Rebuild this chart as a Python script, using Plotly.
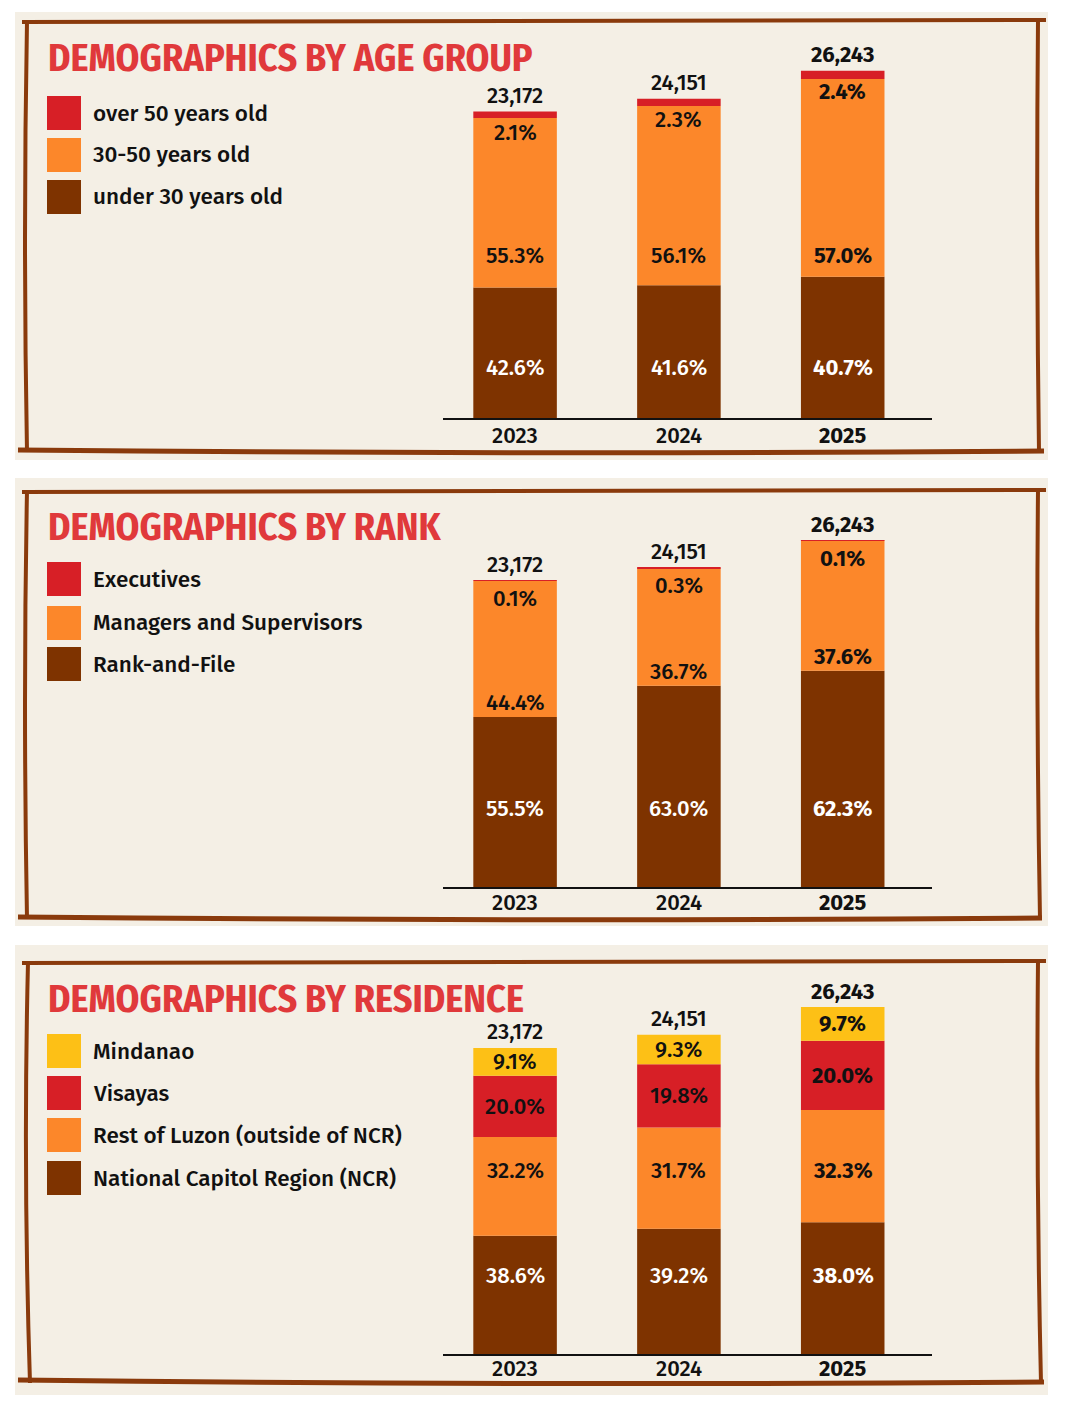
import plotly.graph_objects as go

# ---------------- DATA ----------------
years = ["2023", "2024", "2025"]
totals = [23172, 24151, 26243]
total_labels = ["23,172", "24,151", "26,243"]

age_names = ["under 30 years old", "30-50 years old", "over 50 years old"]
age_under30 = [42.6, 41.6, 40.7]
age_30to50 = [55.3, 56.1, 57.0]
age_over50 = [2.1, 2.3, 2.4]

rank_names = ["Rank-and-File", "Managers and Supervisors", "Executives"]
rank_file = [55.5, 63.0, 62.3]
rank_managers = [44.4, 36.7, 37.6]
rank_executives = [0.1, 0.3, 0.1]

res_names = ["National Capitol Region (NCR)", "Rest of Luzon (outside of NCR)", "Visayas", "Mindanao"]
res_ncr = [38.6, 39.2, 38.0]
res_luzon = [32.2, 31.7, 32.3]
res_visayas = [20.0, 19.8, 20.0]
res_mindanao = [9.1, 9.3, 9.7]

titles = ["DEMOGRAPHICS BY AGE GROUP", "DEMOGRAPHICS BY RANK", "DEMOGRAPHICS BY RESIDENCE"]

# ---------------- STYLE ----------------
W, H = 1066, 1414
BROWN = "#7E3300"
ORANGE = "#FC872A"
RED = "#D71F26"
YELLOW = "#FDC016"
BORDER = "#8A3A0C"
BG = "#F4EFE5"
TITLE_RED = "#E0393B"
TITLE_FONT = "Fira Sans Condensed, Roboto Condensed, Fira Sans Extra Condensed, Liberation Sans Narrow, Roboto, sans-serif"
BODY_FONT = "Fira Sans, Roboto, Noto Sans, sans-serif"
PX_PER_UNIT = 347.0 / 26243.0
XRANGE = [-0.44, 2.545]
BAR_W = 0.51


def px(x):
    return x / W


def py(y):
    return 1 - y / H


# label placement modes per series:
#   ("fixed", px_above_base), ("center", 0), ("below_top", px), ("above_start", px)
panels = [
    dict(
        series=[(age_names[0], age_under30, BROWN, "white", ("fixed", 51)),
                (age_names[1], age_30to50, ORANGE, "#111", ("fixed", 163)),
                (age_names[2], age_over50, RED, "#111", ("below_top", 21))],
        bg=(15, 12, 1048, 460), base=418, top=38, title_y=58, tick_shift=17,
        legend_y=[113, 155, 197],
        border=dict(top=[(22, 22), (520, 19), (1046, 20)], left=[(27, 21), (23, 240), (27, 452)],
                    right=[(1038, 20), (1036, 240), (1039, 452)], bottom=[(18, 450), (530, 455), (1044, 451)]),
    ),
    dict(
        series=[(rank_names[0], rank_file, BROWN, "white", ("fixed", 79)),
                (rank_names[1], rank_managers, ORANGE, "#111", ("above_start", 14)),
                (rank_names[2], rank_executives, RED, "#111", ("below_top", 18))],
        bg=(15, 478, 1048, 926), base=887, top=507, title_y=527, tick_shift=15,
        legend_y=[579, 623, 664],
        border=dict(top=[(22, 492), (520, 489), (1046, 490)], left=[(27, 491), (23, 700), (27, 919)],
                    right=[(1038, 490), (1036, 700), (1040, 919)], bottom=[(18, 917), (530, 922), (1042, 918)]),
    ),
    dict(
        series=[(res_names[0], res_ncr, BROWN, "white", ("fixed", 79)),
                (res_names[1], res_luzon, ORANGE, "#111", ("fixed", 184)),
                (res_names[2], res_visayas, RED, "#111", ("center", 0)),
                (res_names[3], res_mindanao, YELLOW, "#111", ("center", 0))],
        bg=(15, 945, 1048, 1395), base=1354, top=974, title_y=999, tick_shift=14,
        legend_y=[1051, 1093, 1135, 1178],
        border=dict(top=[(22, 963), (520, 960), (1046, 961)], left=[(28, 962), (23, 1170), (30, 1383)],
                    right=[(1038, 961), (1036, 1170), (1041, 1383)], bottom=[(18, 1380), (530, 1386), (1044, 1382)]),
    ),
]

fig = go.Figure()
shapes = []
annotations = []
layout_axes = {}

for i, p in enumerate(panels):
    n = i + 1
    xa = "x" if n == 1 else f"x{n}"
    ya = "y" if n == 1 else f"y{n}"
    xkey = "xaxis" if n == 1 else f"xaxis{n}"
    ykey = "yaxis" if n == 1 else f"yaxis{n}"

    # background panel
    x0, y0, x1, y1 = p["bg"]
    shapes.append(dict(type="rect", xref="paper", yref="paper", x0=px(x0), x1=px(x1), y0=py(y1), y1=py(y0),
                       fillcolor=BG, line=dict(width=0), layer="below"))
    # hand-drawn border
    for side, pts in p["border"].items():
        (ax, ay), (cx, cy), (bx, by) = pts
        path = f"M {px(ax)},{py(ay)} Q {px(cx)},{py(cy)} {px(bx)},{py(by)}"
        shapes.append(dict(type="path", xref="paper", yref="paper", path=path,
                           line=dict(color=BORDER, width=5 if side == "bottom" else 4), layer="below"))

    # stacked bars (segment heights in head-count)
    cum = [0.0, 0.0, 0.0]
    bar_tops = [sum(t * s[1][k] / 100 for s in p["series"]) for k, t in enumerate(totals)]
    for name, vals, color, tcolor, mode in p["series"]:
        seg = [t * v / 100 for t, v in zip(totals, vals)]
        fig.add_trace(go.Bar(x=[0, 1, 2], y=seg, base=cum[:], width=BAR_W, name=name,
                             marker=dict(color=color, line=dict(width=0)),
                             xaxis=xa, yaxis=ya, showlegend=False, hoverinfo="skip"))
        for k in range(3):
            txt = f"{vals[k]:.1f}%"
            if k == 2:
                txt = f"<b>{txt}</b>"
            kind, off = mode
            if kind == "fixed":
                yv, ys = 0, off
            elif kind == "center":
                yv, ys = cum[k] + seg[k] / 2, 0
            elif kind == "below_top":
                yv, ys = bar_tops[k], -off
            else:
                yv, ys = cum[k], off
            annotations.append(dict(x=k, y=yv, xref=xa, yref=ya, text=txt, showarrow=False,
                                    yshift=ys, xanchor="center", yanchor="middle",
                                    font=dict(family=BODY_FONT, size=22, color=tcolor, weight=500)))
        cum = [c + s for c, s in zip(cum, seg)]

    # totals above bars, year labels below
    for k in range(3):
        txt = total_labels[k] if k < 2 else f"<b>{total_labels[k]}</b>"
        annotations.append(dict(x=k, y=bar_tops[k], xref=xa, yref=ya, text=txt, showarrow=False,
                                yshift=16, xanchor="center", yanchor="middle",
                                font=dict(family=BODY_FONT, size=22, color="#111", weight=500)))
        ytxt = years[k] if k < 2 else f"<b>{years[k]}</b>"
        annotations.append(dict(x=k, y=0, xref=xa, yref=ya, text=ytxt, showarrow=False,
                                yshift=-p["tick_shift"], xanchor="center", yanchor="middle",
                                font=dict(family=BODY_FONT, size=22, color="#111", weight=500)))

    # title
    annotations.append(dict(x=px(46), y=py(p["title_y"]), xref="paper", yref="paper", text=f"<b>{titles[i]}</b>",
                            showarrow=False, xanchor="left", yanchor="middle",
                            font=dict(family=TITLE_FONT, size=38, color=TITLE_RED)))

    # custom legend (top of stack listed first)
    for j, (name, vals, color, tcolor, mode) in enumerate(reversed(p["series"])):
        cy = p["legend_y"][j]
        shapes.append(dict(type="rect", xref="paper", yref="paper", x0=px(47), x1=px(81),
                           y0=py(cy + 17), y1=py(cy - 17), fillcolor=color, line=dict(width=0)))
        annotations.append(dict(x=px(91), y=py(cy), xref="paper", yref="paper", text=name, showarrow=False,
                                xanchor="left", yanchor="middle",
                                font=dict(family=BODY_FONT, size=22.5, color="#111", weight=500)))

    # axes
    base, top = p["base"], p["top"]
    layout_axes[xkey] = dict(domain=[px(443), px(932)], range=XRANGE, anchor=ya,
                             tickvals=[0, 1, 2], showticklabels=False,
                             showline=True, linecolor="#111", linewidth=1.5, ticks="",
                             showgrid=False, zeroline=False, fixedrange=True)
    layout_axes[ykey] = dict(domain=[py(base), py(top)], range=[0, (base - top) / PX_PER_UNIT], anchor=xa,
                             visible=False, showgrid=False, zeroline=False, fixedrange=True)

fig.update_layout(
    width=W, height=H, margin=dict(l=0, r=0, t=0, b=0),
    paper_bgcolor="white", plot_bgcolor="rgba(0,0,0,0)",
    barmode="overlay", showlegend=False,
    shapes=shapes, annotations=annotations,
    **layout_axes,
)

fig.write_html("out.html")
